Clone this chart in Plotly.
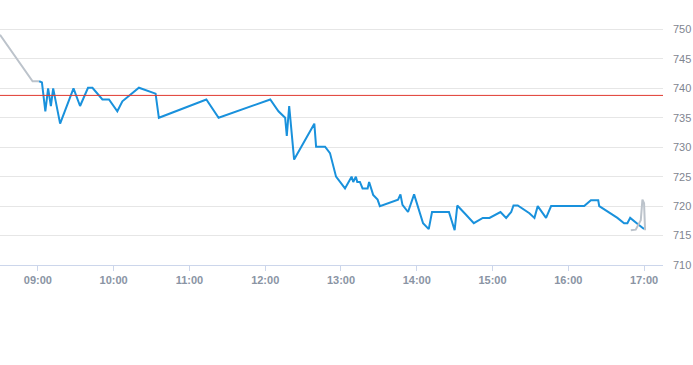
import plotly.graph_objects as go
from datetime import datetime, timedelta

BASE = datetime(2024, 1, 2, 9, 0, 0)

# minutes after 09:00 and prices for the main (market hours) series
main_minutes = [1.0, 3.2, 5.9, 8.1, 10.3, 12.1, 17.6, 28.2, 33.4, 39.7, 43.2, 51.1, 56.3, 62.9,
                66.9, 80.0, 93.2, 95.8, 133.4, 143.1, 184.0, 190.5, 195.8, 197.1, 199.0, 202.9,
                218.9, 220.3, 227.4, 231.3, 236.1, 243.2, 248.4, 249.7, 251.8, 252.9, 255.0,
                257.1, 261.1, 262.3, 265.5, 269.0, 270.8, 285.2, 287.1, 288.7, 293.1, 297.9,
                305.0, 309.5, 312.1, 325.5, 330.0, 332.1, 339.2, 345.2, 352.3, 357.6, 366.3,
                370.8, 374.8, 376.6, 380.0, 389.2, 393.2, 395.8, 402.4, 406.4, 432.6, 437.9,
                443.7, 444.5, 458.9, 464.2, 466.8, 469.0, 474.7, 480.0]
main_prices = [741.2, 741.0, 736.1, 740.0, 737.0, 740.0, 734.0, 740.0, 737.0, 740.1, 740.1, 738.1,
               738.1, 736.1, 737.8, 740.1, 739.1, 735.0, 738.1, 735.0, 738.1, 736.1, 735.0, 731.9,
               737.0, 727.9, 734.0, 730.1, 730.1, 729.0, 725.0, 723.0, 725.0, 724.1, 725.0, 724.1,
               724.1, 723.0, 723.0, 724.1, 721.9, 721.1, 720.0, 721.1, 722.0, 720.2, 719.0, 722.0,
               717.1, 716.1, 719.0, 719.0, 715.9, 720.1, 718.5, 717.1, 718.0, 718.0, 719.0, 718.0,
               719.0, 720.1, 720.1, 718.8, 718.0, 720.0, 718.0, 720.0, 720.0, 721.0, 721.0, 720.0,
               718.0, 717.1, 717.1, 718.0, 717.0, 716.1]

# pre-market (grey) series
pre_minutes = [-30.0, -4.2, 1.0]
pre_prices = [749.1, 741.2, 741.2]

# post / closing auction (grey) series
post_minutes = [469.5, 473.4, 477.4, 478.7, 480.0, 480.8]
post_prices = [715.9, 716.0, 717.6, 721.1, 720.5, 715.9]

prev_close = 738.8

y_ticks = [710, 715, 720, 725, 730, 735, 740, 745, 750]
x_tick_hours = [9, 10, 11, 12, 13, 14, 15, 16, 17]


def to_time(mins):
    return [BASE + timedelta(minutes=m) for m in mins]


fig = go.Figure()
fig.add_trace(go.Scatter(x=to_time(pre_minutes), y=pre_prices, mode="lines",
                         line=dict(color="#bcc3cb", width=2), hoverinfo="skip"))
fig.add_trace(go.Scatter(x=to_time(main_minutes), y=main_prices, mode="lines",
                         line=dict(color="#1991dc", width=2)))
fig.add_trace(go.Scatter(x=to_time(post_minutes), y=post_prices, mode="lines",
                         line=dict(color="#bcc3cb", width=2), hoverinfo="skip"))

x_start = BASE - timedelta(minutes=30)
x_end = BASE + timedelta(minutes=495)
fig.add_hline(y=prev_close, line=dict(color="#e0392e", width=1), layer="above")

tickvals = [BASE.replace(hour=h) for h in x_tick_hours]
ticktext = [f"{h:02d}:00" for h in x_tick_hours]

fig.update_layout(
    width=693, height=365,
    margin=dict(l=0, r=30, t=0, b=100),
    paper_bgcolor="white", plot_bgcolor="white",
    showlegend=False,
    xaxis=dict(
        range=[x_start, x_end],
        tickvals=tickvals, ticktext=ticktext,
        showgrid=False, zeroline=False,
        showline=True, linecolor="#ccd6eb", linewidth=1,
        ticks="outside", ticklen=5, tickcolor="#ccd6eb",
        tickfont=dict(family="Liberation Sans, Arial", size=11, color="#8a94a4", weight="bold"),
    ),
    yaxis=dict(
        range=[710, 755],
        side="right",
        tickvals=y_ticks,
        showgrid=True, gridcolor="#e6e6e6", gridwidth=1,
        zeroline=False, showline=False,
        ticks="", ticklabelstandoff=9,
        tickfont=dict(family="Liberation Sans, Arial", size=11, color="#7f8590"),
    ),
)

fig.write_html("out.html")
